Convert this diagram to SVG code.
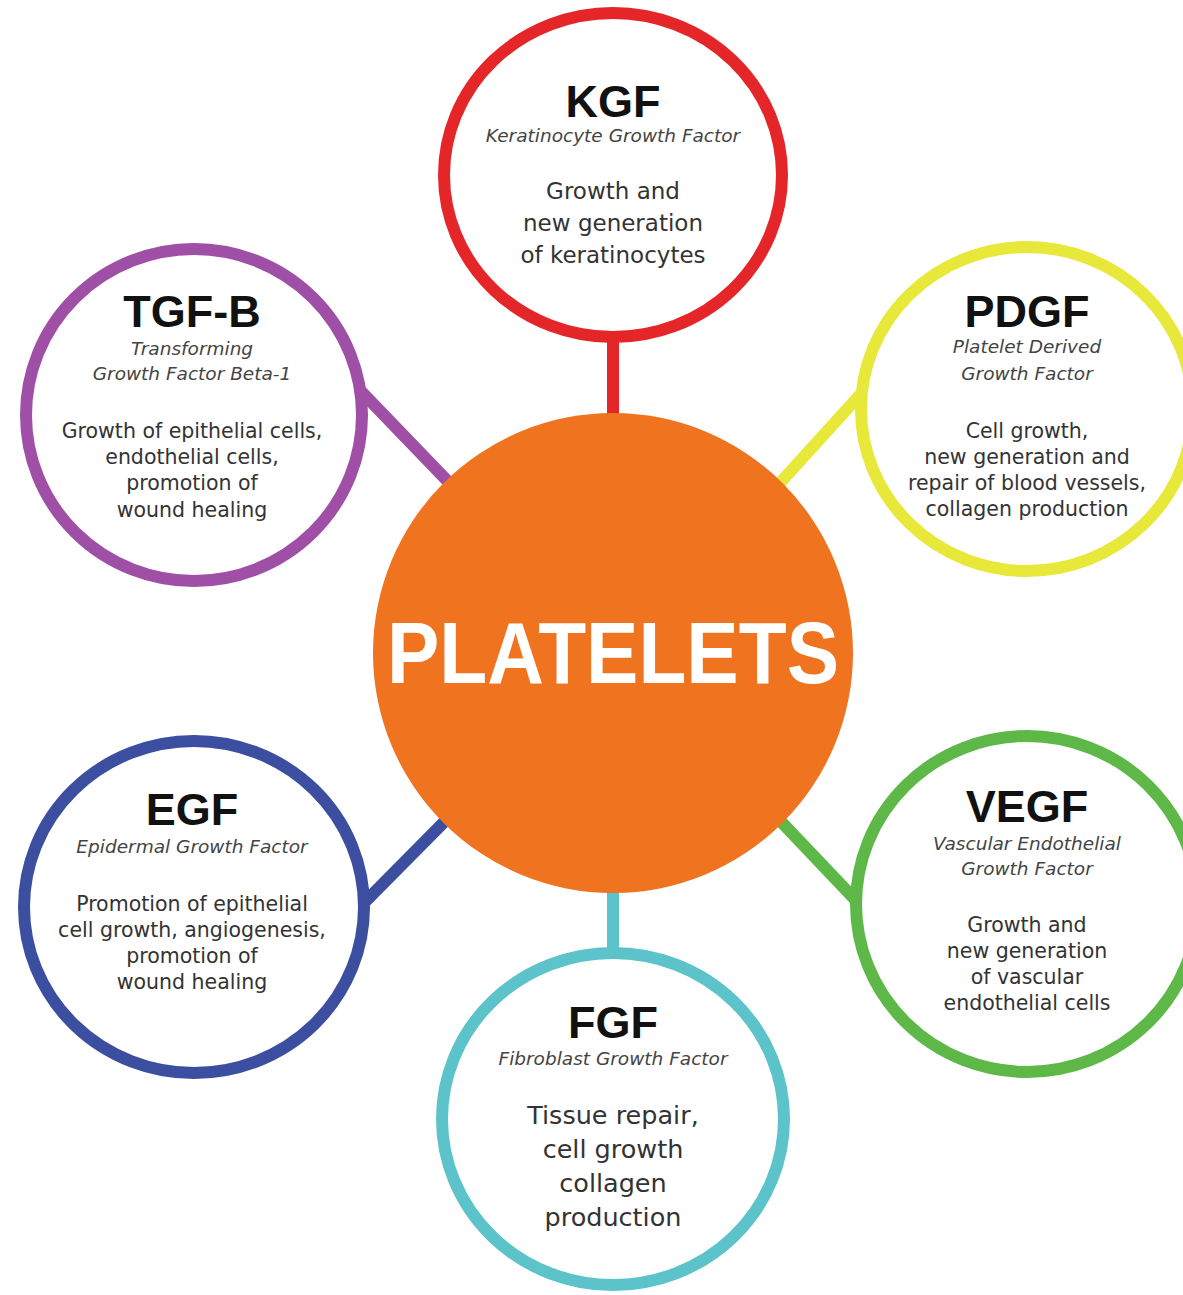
<svg xmlns="http://www.w3.org/2000/svg" width="1183" height="1295" viewBox="0 0 1183 1295">
<style>
.ring{fill:#fff;stroke-width:12}
.con{stroke-width:12;fill:none;stroke-linecap:butt}
.t{font-family:"Liberation Sans",Arial,sans-serif;font-weight:bold;font-size:45px;fill:#111;text-anchor:middle}
.s{font-family:"DejaVu Sans",sans-serif;font-style:italic;font-size:18.5px;fill:#444;text-anchor:middle}
.b{font-family:"DejaVu Sans",sans-serif;font-size:20.5px;fill:#333;text-anchor:middle}
.bl{font-family:"DejaVu Sans",sans-serif;font-size:23px;fill:#333;text-anchor:middle}
.bx{font-family:"DejaVu Sans",sans-serif;font-size:25.5px;fill:#333;text-anchor:middle}
</style>
<rect width="1183" height="1295" fill="#fff"/>
<g id="connectors">
<line class="con" stroke="#E52629" x1="613" y1="330" x2="613" y2="430"/>
<line class="con" stroke="#A04FA6" x1="355" y1="385" x2="460" y2="494"/>
<line class="con" stroke="#E8E83A" x1="868" y1="386" x2="770" y2="494"/>
<line class="con" stroke="#3C4EA0" x1="355" y1="912" x2="456" y2="810"/>
<line class="con" stroke="#5DB848" x1="866" y1="911" x2="770" y2="810"/>
<line class="con" stroke="#5BC3C9" x1="613" y1="880" x2="613" y2="960"/>
</g>
<g id="platelets">
<circle cx="613" cy="653" r="240" fill="#F07320"/>
<text x="613" y="683" font-family="'Liberation Sans',Arial,sans-serif" font-weight="bold" font-size="88" fill="#fff" text-anchor="middle" textLength="452" lengthAdjust="spacingAndGlyphs">PLATELETS</text>
</g>
<g id="kgf">
<ellipse class="ring" stroke="#E52629" cx="613" cy="175" rx="169" ry="162"/>
<text class="t" x="613" y="117">KGF</text>
<text class="s" x="613" y="142">Keratinocyte Growth Factor</text>
<text class="bl" x="613" y="199">Growth and</text>
<text class="bl" x="613" y="231">new generation</text>
<text class="bl" x="613" y="263">of keratinocytes</text>
</g>
<g id="pdgf">
<ellipse class="ring" stroke="#E8E83A" cx="1027" cy="409" rx="166" ry="162"/>
<text class="t" x="1027" y="327">PDGF</text>
<text class="s" x="1027" y="353">Platelet Derived</text>
<text class="s" x="1027" y="380">Growth Factor</text>
<text class="b" x="1027" y="438">Cell growth,</text>
<text class="b" x="1027" y="464">new generation and</text>
<text class="b" x="1027" y="490">repair of blood vessels,</text>
<text class="b" x="1027" y="516">collagen production</text>
</g>
<g id="tgfb">
<ellipse class="ring" stroke="#A04FA6" cx="194" cy="415" rx="168" ry="166"/>
<text class="t" x="192" y="327">TGF-B</text>
<text class="s" x="192" y="355">Transforming</text>
<text class="s" x="192" y="380">Growth Factor Beta-1</text>
<text class="b" x="192" y="438">Growth of epithelial cells,</text>
<text class="b" x="192" y="464">endothelial cells,</text>
<text class="b" x="192" y="490">promotion of</text>
<text class="b" x="192" y="517">wound healing</text>
</g>
<g id="egf">
<ellipse class="ring" stroke="#3C4EA0" cx="194" cy="907" rx="170" ry="166"/>
<text class="t" x="192" y="825">EGF</text>
<text class="s" x="192" y="853">Epidermal Growth Factor</text>
<text class="b" x="192" y="911">Promotion of epithelial</text>
<text class="b" x="192" y="937">cell growth, angiogenesis,</text>
<text class="b" x="192" y="963">promotion of</text>
<text class="b" x="192" y="989">wound healing</text>
</g>
<g id="vegf">
<ellipse class="ring" stroke="#5DB848" cx="1027" cy="904" rx="171" ry="168"/>
<text class="t" x="1027" y="822">VEGF</text>
<text class="s" x="1027" y="850">Vascular Endothelial</text>
<text class="s" x="1027" y="875">Growth Factor</text>
<text class="b" x="1027" y="932">Growth and</text>
<text class="b" x="1027" y="958">new generation</text>
<text class="b" x="1027" y="984">of vascular</text>
<text class="b" x="1027" y="1010">endothelial cells</text>
</g>
<g id="fgf">
<ellipse class="ring" stroke="#5BC3C9" cx="613" cy="1119" rx="171" ry="166"/>
<text class="t" x="613" y="1038">FGF</text>
<text class="s" x="613" y="1065">Fibroblast Growth Factor</text>
<text class="bx" x="613" y="1124">Tissue repair,</text>
<text class="bx" x="613" y="1158">cell growth</text>
<text class="bx" x="613" y="1192">collagen</text>
<text class="bx" x="613" y="1226">production</text>
</g>
</svg>
